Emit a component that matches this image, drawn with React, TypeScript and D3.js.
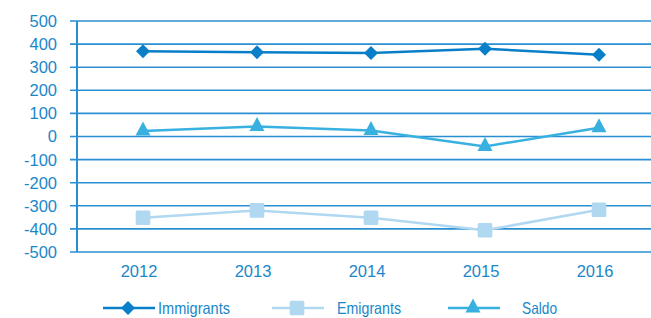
import React from "react";
import * as d3 from "d3";

const years = ["2012", "2013", "2014", "2015", "2016"];
const immigrants = [369, 365, 362, 380, 354];
const emigrants = [-352, -320, -352, -406, -317];
const saldo = [24, 43, 26, -43, 38];
const yTicks = [500, 400, 300, 200, 100, 0, -100, -200, -300, -400, -500];

const W = 651;
const H = 318;
const FONT = "'Liberation Sans', Arial, sans-serif";
const TEXT = "#1a87c9";
const GRID = "#2a8fd2";

const series = [
  { name: "Immigrants", values: immigrants, color: "#0a7fc9", kind: "diamond" },
  { name: "Emigrants", values: emigrants, color: "#b0d8f0", kind: "square" },
  { name: "Saldo", values: saldo, color: "#38b1e0", kind: "triangle" },
];

function Marker({ s, x, y }: any) {
  if (s.kind === "diamond") {
    const r = 7;
    return <path d={`M${x},${y - r}L${x + r},${y}L${x},${y + r}L${x - r},${y}Z`} fill={s.color} />;
  }
  if (s.kind === "square") {
    const r = 7.3;
    return <rect x={x - r} y={y - r} width={2 * r} height={2 * r} rx={1.5} fill={s.color} />;
  }
  const h = 14;
  const w = 15;
  return <path d={`M${x},${y - h * 0.68}L${x + w / 2},${y + h * 0.32}L${x - w / 2},${y + h * 0.32}Z`} fill={s.color} />;
}

export default function App() {
  const y = d3.scaleLinear().domain([-500, 500]).range([252, 21]);
  const x = d3.scalePoint<string>().domain(years).range([143, 599]);
  const axisX = 77;

  const line = (vals: number[]) =>
    d3.line<number>().x((_, i) => x(years[i]) as number).y((v) => y(v))(vals) as string;

  const legendItems = [
    { lx: 103, tx: 158, tw: 72 },
    { lx: 272, tx: 337, tw: 64 },
    { lx: 448, tx: 522, tw: 35 },
  ];
  const legendY = 308;
  const FS = 16.5;

  return (
    <svg width={W} height={H} style={{ position: "absolute", left: 0, top: 0, background: "#fff" }}>
      {yTicks.map((t) => (
        <g key={t}>
          <line x1={70} x2={W} y1={y(t)} y2={y(t)} stroke={GRID} strokeWidth={1.6} />
          <text x={57} y={y(t)} dy="0.36em" textAnchor="end" fill={TEXT} fontFamily={FONT} fontSize={FS}>
            {t}
          </text>
        </g>
      ))}
      <line x1={axisX} x2={axisX} y1={y(500)} y2={y(-500)} stroke={GRID} strokeWidth={2} />
      {years.map((yr) => (
        <text key={yr} x={(x(yr) as number) - 4} y={277} textAnchor="middle" fill={TEXT} fontFamily={FONT} fontSize={FS}>
          {yr}
        </text>
      ))}
      {series.map((s) => (
        <g key={s.name}>
          <path d={line(s.values)} fill="none" stroke={s.color} strokeWidth={2.5} />
          {s.values.map((v, i) => (
            <Marker key={i} s={s} x={x(years[i]) as number} y={y(v)} />
          ))}
        </g>
      ))}
      {series.map((s, i) => {
        const it = legendItems[i];
        return (
          <g key={s.name}>
            <line x1={it.lx} x2={it.lx + 52} y1={legendY} y2={legendY} stroke={s.color} strokeWidth={2.5} />
            <Marker s={s} x={it.lx + 25} y={legendY} />
            <text
              x={it.tx}
              y={legendY}
              dy="0.36em"
              fill={TEXT}
              fontFamily={FONT}
              fontSize={FS}
              textLength={it.tw}
              lengthAdjust="spacingAndGlyphs"
            >
              {s.name}
            </text>
          </g>
        );
      })}
    </svg>
  );
}
